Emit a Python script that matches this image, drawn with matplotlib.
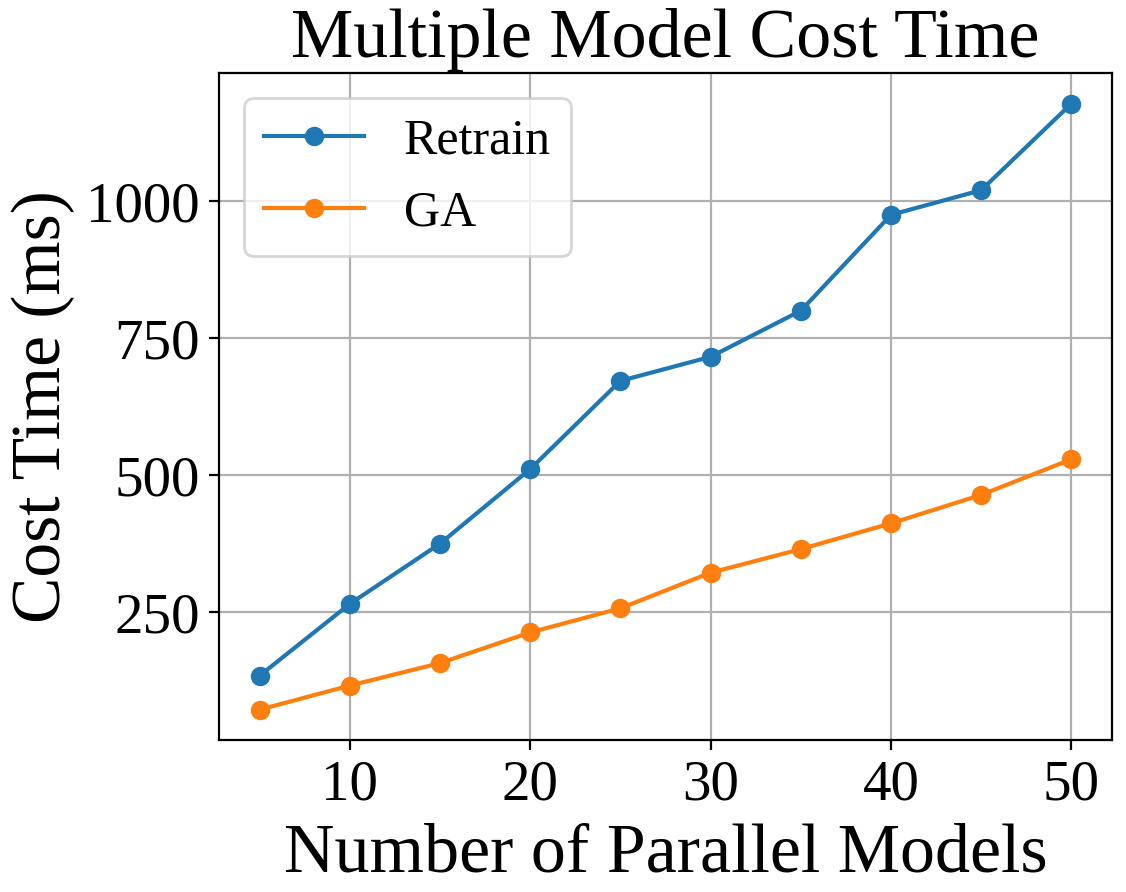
import matplotlib
matplotlib.use("Agg")
import matplotlib.pyplot as plt

x_models = [5, 10, 15, 20, 25, 30, 35, 40, 45, 50]
retrain = [134, 265, 375, 511, 672, 716, 800, 975, 1020, 1178]
ga = [72, 116, 157, 213, 257, 322, 365, 412, 464, 529]
y_ticks = [250, 500, 750, 1000]
x_ticks = [10, 20, 30, 40, 50]

plt.rcParams['font.family'] = ['Liberation Serif', 'DejaVu Serif']

fig = plt.figure(figsize=(5.63, 4.46), dpi=200)
ax = fig.add_axes([219/1126, 1-740/892, (1112-219)/1126, (740-73.3)/892])
ax.plot(x_models, retrain, marker='o', label='Retrain')
ax.plot(x_models, ga, marker='o', label='GA')
ax.set_xticks(x_ticks)
ax.set_yticks(y_ticks)
ax.tick_params(labelsize=20.5)
ax.grid(True)
ax.set_title('Multiple Model Cost Time', fontsize=25.2)
ax.set_xlabel('Number of Parallel Models', fontsize=25.2)
ax.set_ylabel('Cost Time (ms)', fontsize=25)
ax.legend(fontsize=18, loc='upper left')
fig.savefig('out.png', dpi=200)
